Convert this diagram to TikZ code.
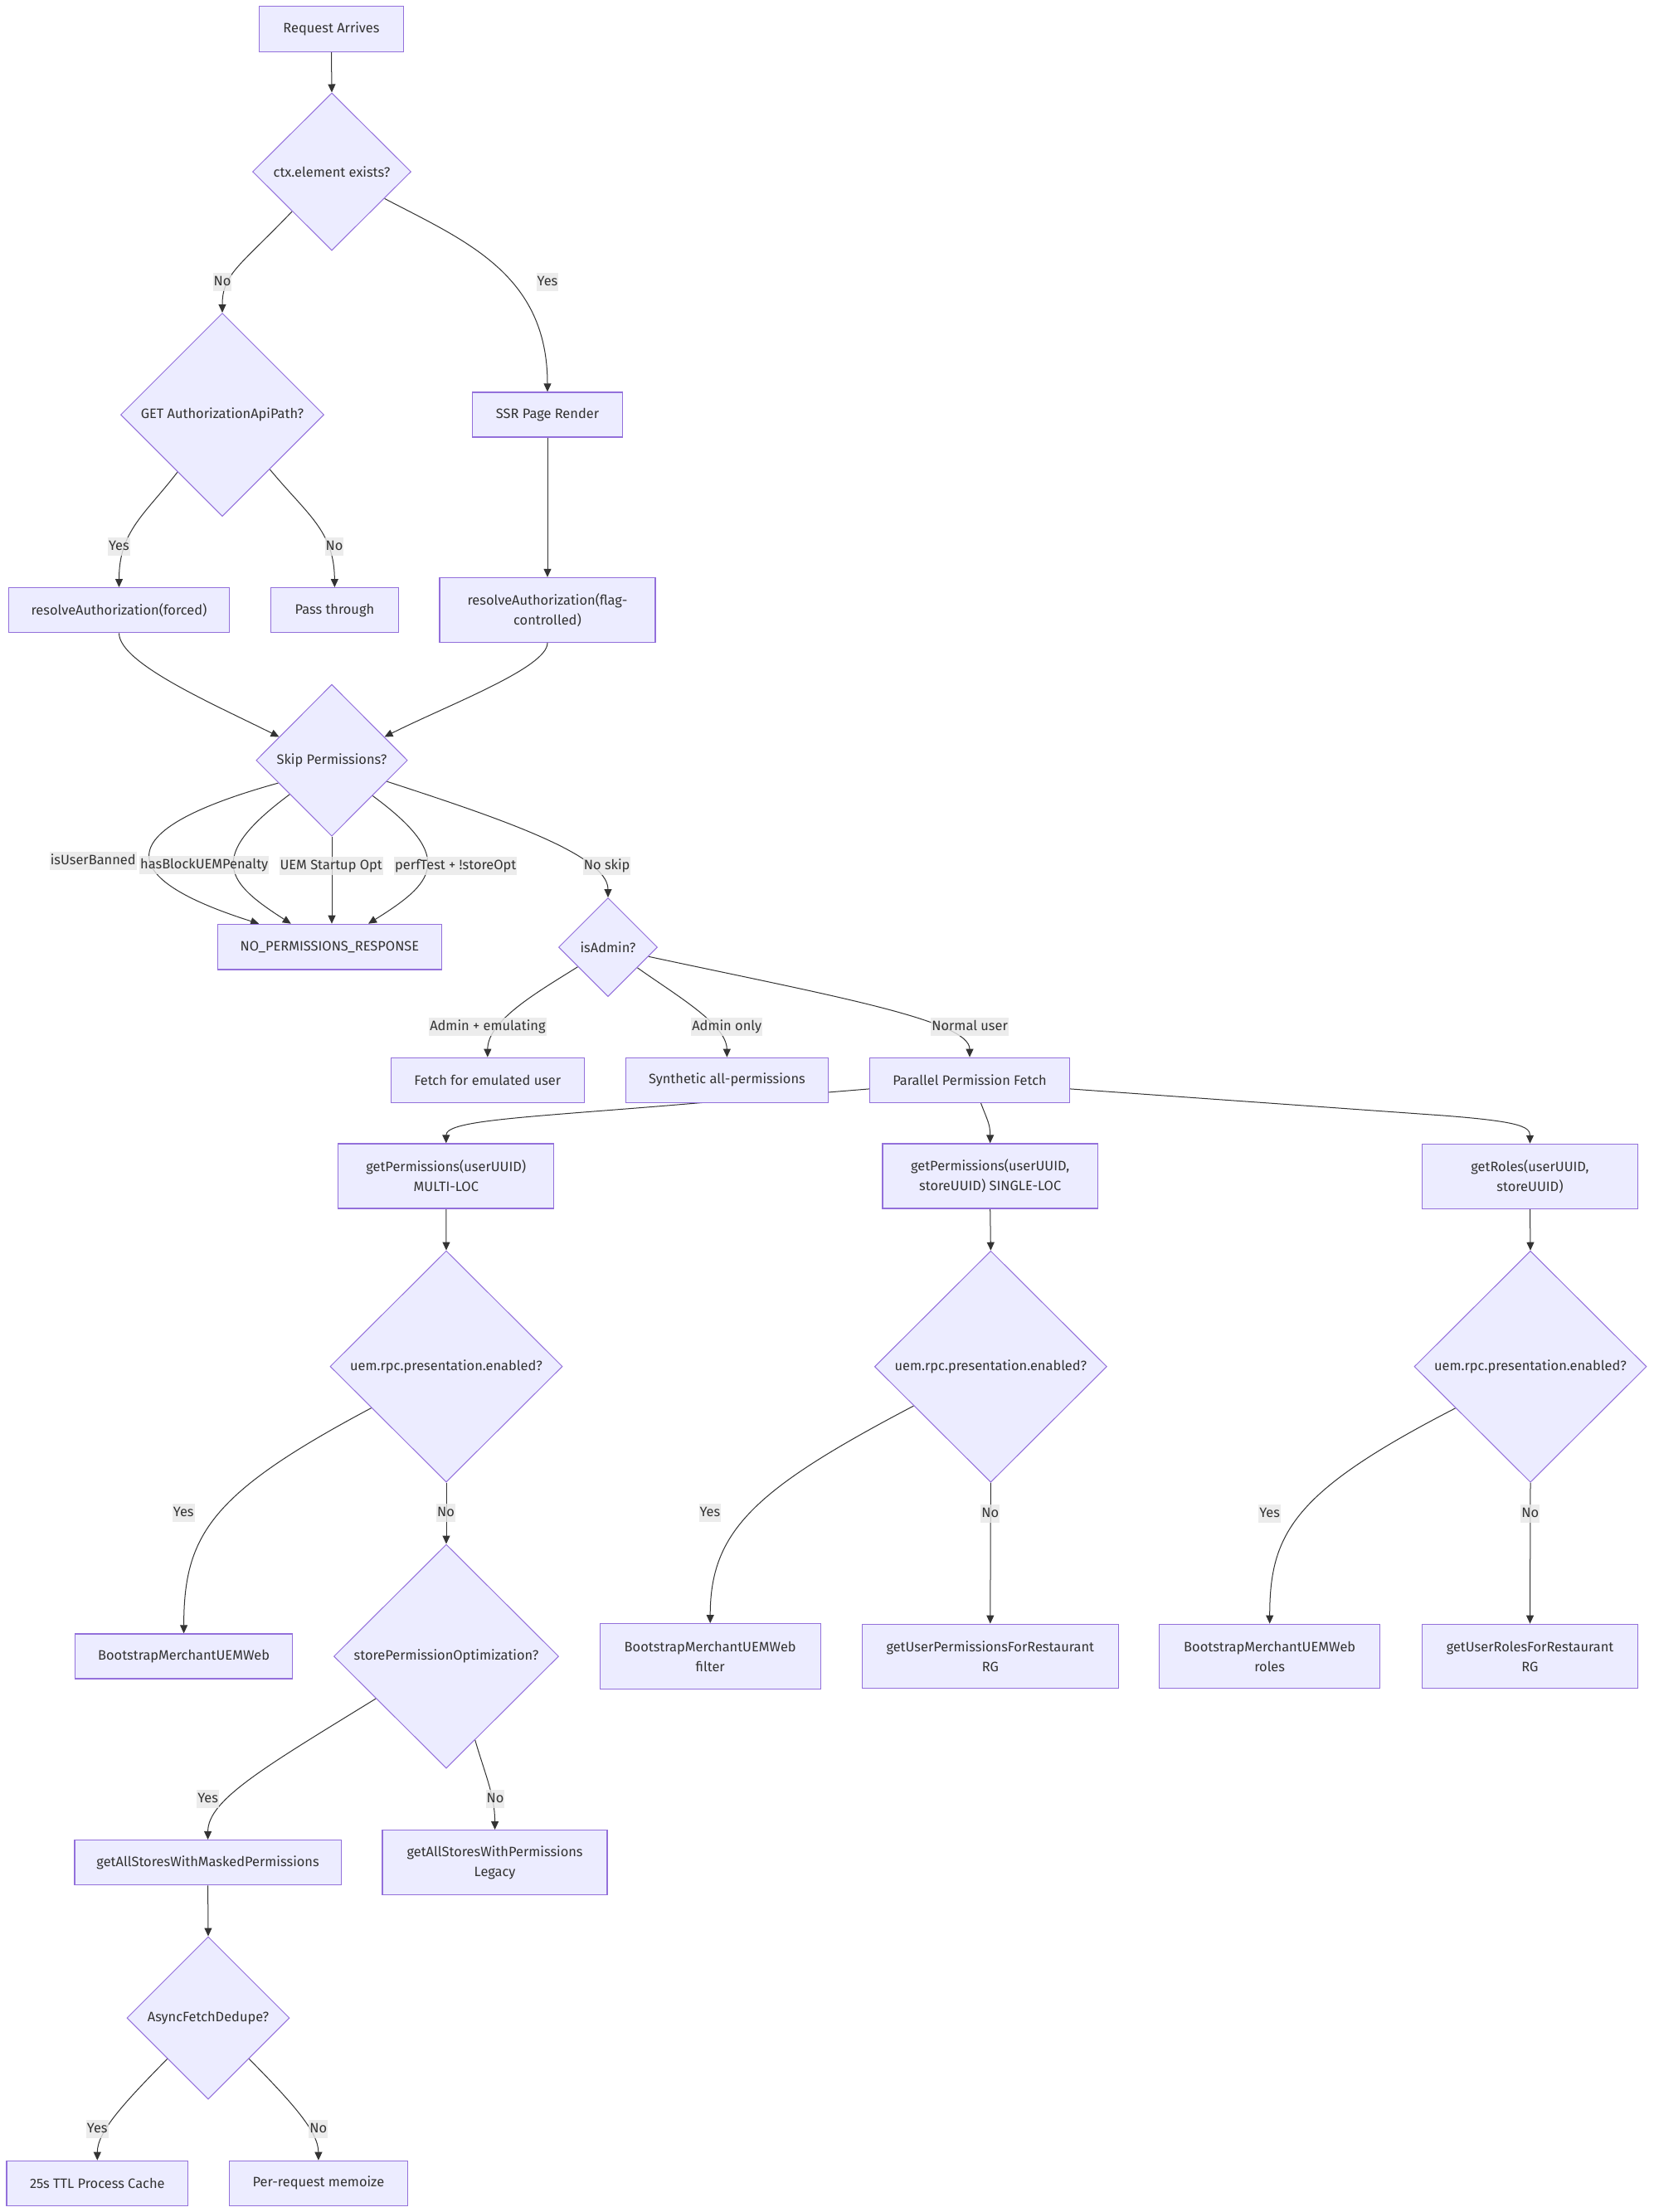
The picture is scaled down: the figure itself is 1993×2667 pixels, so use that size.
\documentclass[tikz,border=0pt]{standalone}
\usepackage{fontspec}
\setmainfont{Fira Sans}
\usetikzlibrary{shapes.geometric,arrows.meta,backgrounds}
\definecolor{nodefill}{HTML}{ECECFF}
\definecolor{nodeline}{HTML}{9370DB}
\definecolor{edgecol}{HTML}{333333}
\definecolor{labelbg}{HTML}{E8E8E8}
\definecolor{txt}{HTML}{333333}
\begin{document}
\begin{tikzpicture}[x=0.5pt,y=-0.5pt,
  font=\fontsize{8.2}{12}\selectfont, text=txt,
  box/.style={draw=nodeline, fill=nodefill, line width=0.65pt, rectangle, inner sep=0pt, align=center},
  dia/.style={draw=nodeline, fill=nodefill, line width=0.5pt, diamond, inner sep=0pt, aspect=1, align=center},
  lbl/.style={fill=labelbg, fill opacity=0.8, text opacity=1, inner xsep=0.5pt, inner ysep=1.25pt, text height=6.5pt, text depth=2pt},
  edge/.style={draw=edgecol, line width=0.5pt, -{Triangle[length=5pt,width=4.5pt]}}]
\useasboundingbox (0,0) rectangle (1993,2667);
% nodes
\node[box, minimum width=87pt, minimum height=27.25pt] (req) at (399.5,35) {Request Arrives};
\node[dia, minimum width=95.5pt, minimum height=95pt] (ctx) at (400,207) {ctx.element exists?};
\node[dia, minimum width=122.5pt, minimum height=122.5pt] (getapi) at (268,500) {GET AuthorizationApiPath?};
\node[box, minimum width=90.5pt, minimum height=27pt] (ssr) at (660,500) {SSR Page Render};
\node[box, minimum width=133.3pt, minimum height=27pt] (forced) at (143.5,735.7) {resolveAuthorization(forced)};
\node[box, minimum width=76.9pt, minimum height=27pt] (pass) at (403.4,735.7) {Pass through};
\node[box, minimum width=130pt, minimum height=39pt] (flag) at (660,735.5) {resolveAuthorization(flag-\\controlled)};
\node[dia, minimum width=91.2pt, minimum height=91.5pt] (skip) at (400,916.7) {Skip Permissions?};
\node[box, minimum width=135pt, minimum height=27.35pt] (noperm) at (397.4,1141.7) {NO\_PERMISSIONS\_RESPONSE};
\node[dia, minimum width=59.5pt, minimum height=59.5pt] (isadmin) at (733,1142) {isAdmin?};
\node[box, minimum width=116.4pt, minimum height=27pt] (emu) at (587.8,1302.3) {Fetch for emulated user};
\node[box, minimum width=121.8pt, minimum height=27pt] (synth) at (876.4,1302.3) {Synthetic all-permissions};
\node[box, minimum width=120.5pt, minimum height=27pt] (par) at (1169,1302.3) {Parallel Permission Fetch};
\node[box, minimum width=130pt, minimum height=39pt] (multi) at (537.8,1418) {getPermissions(userUUID)\\MULTI-LOC};
\node[box, minimum width=129.75pt, minimum height=39pt] (single) at (1193.7,1418) {getPermissions(userUUID,\\storeUUID) SINGLE-LOC};
\node[box, minimum width=130.15pt, minimum height=39pt] (roles) at (1844.5,1418.4) {getRoles(userUUID,\\storeUUID)};
\node[dia, minimum width=140pt, minimum height=139.5pt] (uemM) at (538,1647.5) {uem.rpc.presentation.enabled?};
\node[dia, minimum width=140pt, minimum height=139.5pt] (uemS) at (1194.4,1647.7) {uem.rpc.presentation.enabled?};
\node[dia, minimum width=140pt, minimum height=139.5pt] (uemR) at (1845,1647.7) {uem.rpc.presentation.enabled?};
\node[box, minimum width=131pt, minimum height=27pt] (bootM) at (221.6,1997) {BootstrapMerchantUEMWeb};
\node[dia, minimum width=135.5pt, minimum height=135pt] (storeopt) at (538,1997) {storePermissionOptimization?};
\node[box, minimum width=133pt, minimum height=39.3pt] (bootF) at (856.2,1997) {BootstrapMerchantUEMWeb\\filter};
\node[box, minimum width=154.5pt, minimum height=38.75pt] (gupr) at (1193.8,1997) {getUserPermissionsForRestaurant\\RG};
\node[box, minimum width=133pt, minimum height=38.75pt] (bootR) at (1530.7,1997) {BootstrapMerchantUEMWeb\\roles};
\node[box, minimum width=130.15pt, minimum height=38.75pt] (gurr) at (1844.5,1997) {getUserRolesForRestaurant\\RG};
\node[box, minimum width=160.75pt, minimum height=27pt] (masked) at (250.6,2245.6) {getAllStoresWithMaskedPermissions};
\node[box, minimum width=135.5pt, minimum height=39pt] (legacy) at (596.6,2245.6) {getAllStoresWithPermissions\\Legacy};
\node[dia, minimum width=98pt, minimum height=98pt] (async) at (251,2433) {AsyncFetchDedupe?};
\node[box, minimum width=109.2pt, minimum height=27pt] (ttl) at (117.3,2632.3) {25s TTL Process Cache};
\node[box, minimum width=107.4pt, minimum height=27pt] (memo) at (383.9,2632.3) {Per-request memoize};
% edges
\begin{pgfonlayer}{background}
\fill[white] (0,0) rectangle (1993,2667);
\draw[edge] (req.south) -- (ctx.north);
\draw[edge] (ctx.225) .. controls (290,320) and (268,330) .. (getapi.north);
\draw[edge] (ctx.-27) .. controls (560,290) and (660,330) .. (ssr.north);
\draw[edge] (getapi.232) .. controls (175,620) and (143.5,640) .. (forced.north);
\draw[edge] (getapi.-49) .. controls (370,620) and (403,640) .. (pass.north);
\draw[edge] (ssr.south) -- (flag.north);
\draw[edge] (forced.south) .. controls (143.5,800) and (260,850) .. (skip.156);
\draw[edge] (flag.south) .. controls (660,805) and (540,850) .. (skip.24);
\draw[edge] (skip.203) .. controls (80,1015) and (190,1075) .. ([xshift=-42.6pt]noperm.north);
\draw[edge] (skip.219) .. controls (245,1035) and (275,1065) .. ([xshift=-23.3pt]noperm.north);
\draw[edge] (skip.south) -- (skip.south |- noperm.north);
\draw[edge] (skip.-41) .. controls (552,1035) and (522,1065) .. ([xshift=23.3pt]noperm.north);
\draw[edge] (skip.-21) .. controls (596.5,984.7) and (733,1030) .. (isadmin.north);
\draw[edge] (isadmin.213) .. controls (650,1195) and (588,1230) .. (emu.north);
\draw[edge] (isadmin.-35) .. controls (815,1200) and (876,1235) .. (synth.north);
\draw[edge] (isadmin.-13) .. controls (1000,1200) and (1169,1230) .. (par.north);
\draw[edge] (par.185) -- (840,1330) .. controls (640,1347) and (537.8,1350) .. (multi.north);
\draw[edge] (par.-64) .. controls (1190,1350) and (1193.7,1355) .. (single.north);
\draw[edge] (par.-5) -- (1740,1345) .. controls (1830,1352) and (1844.5,1358) .. (roles.north);
\draw[edge] (multi.south) -- (uemM.north);
\draw[edge] (single.south) -- (uemS.north);
\draw[edge] (roles.south) -- (uemR.north);
\draw[edge] (uemM.209) .. controls (255,1800) and (221.6,1850) .. (bootM.north);
\draw[edge] (uemM.south) -- (storeopt.north);
\draw[edge] (uemS.207) .. controls (911,1795) and (856.2,1845) .. (bootF.north);
\draw[edge] (uemS.south) -- (gupr.north);
\draw[edge] (uemR.209) .. controls (1560,1798) and (1530.7,1848) .. (bootR.north);
\draw[edge] (uemR.south) -- (gurr.north);
\draw[edge] (storeopt.211) .. controls (320,2130) and (250.6,2170) .. (masked.north);
\draw[edge] (storeopt.-71) .. controls (585,2140) and (596.6,2165) .. (legacy.north);
\draw[edge] (masked.south) -- (async.north);
\draw[edge] (async.225) .. controls (150,2535) and (117.3,2570) .. (ttl.north);
\draw[edge] (async.-45) .. controls (352,2535) and (383.9,2570) .. (memo.north);
\end{pgfonlayer}
% edge labels
\node[lbl] (l1) at (268,340) {No};
\node[lbl] (l2) at (660,340) {Yes};
\node[lbl] (l3) at (143.5,659) {Yes};
\node[lbl] (l4) at (403,659) {No};
\node[lbl] (l5) at (112.2,1038.3) {isUserBanned};
\node[lbl] (l6) at (246.2,1042.7) {hasBlockUEMPenalty};
\node[lbl] (l7) at (399.2,1044.3) {UEM Startup Opt};
\node[lbl] (l8) at (549.3,1043.7) {perfTest + !storeOpt};
\node[lbl] (l9) at (731.7,1044.3) {No skip};
\node[lbl] (l10) at (587.9,1238) {Admin + emulating};
\node[lbl] (l11) at (876.2,1238) {Admin only};
\node[lbl] (l12) at (1169.1,1238.3) {Normal user};
\node[lbl] (l13) at (221.3,1824.2) {Yes};
\node[lbl] (l14) at (537.6,1824.2) {No};
\node[lbl] (l15) at (855.9,1824.2) {Yes};
\node[lbl] (l16) at (1193.8,1824.5) {No};
\node[lbl] (l17) at (1530.7,1824.5) {Yes};
\node[lbl] (l18) at (1844.8,1824.5) {No};
\node[lbl] (l19) at (250.6,2169.2) {Yes};
\node[lbl] (l20) at (597,2169.2) {No};
\node[lbl] (l21) at (117.3,2567.3) {Yes};
\node[lbl] (l22) at (383.7,2567.3) {No};
\end{tikzpicture}
\end{document}
